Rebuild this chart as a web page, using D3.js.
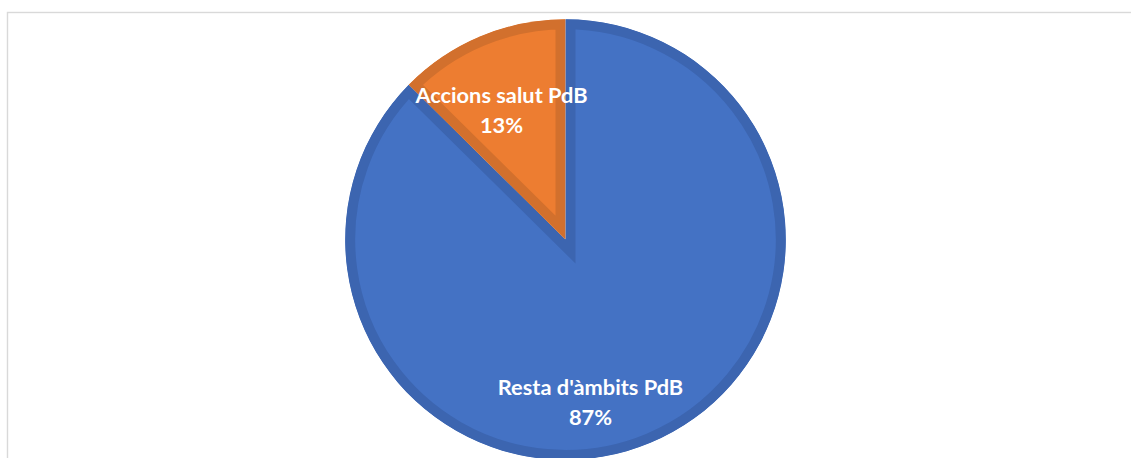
<!DOCTYPE html>
<html>
<head>
<meta charset="utf-8">
<script src="https://cdn.jsdelivr.net/npm/d3@7"></script>
<style>
  html, body { margin: 0; padding: 0; background: #ffffff; overflow: hidden; }
  svg { display: block; }
</style>
</head>
<body>
<svg id="chart" width="1131" height="458"></svg>
<script>
// ---- data ----
const categories = ["Resta d'àmbits PdB", "Accions salut PdB"];
const values = [87.4, 12.6];
const percentLabels = ["87%", "13%"];
const fillColors = ["#4472C4", "#ED7D31"];
const borderColors = ["#3C65B0", "#D2702D"];

// ---- layout ----
const W = 1131, H = 458;
const cx = 565.5, cy = 239.6, R = 220.3;
const borderW = 10;
// label offsets relative to pie centre (best-fit placement)
const labelPos = [[25, 155], [-64, -137]];
const lineGap = 30;

const svg = d3.select("#chart");

// chart area frame
svg.append("rect")
  .attr("x", 7.5).attr("y", 12.5)
  .attr("width", W + 50).attr("height", H + 50)
  .attr("fill", "#ffffff")
  .attr("stroke", "#d9d9d9")
  .attr("stroke-width", 1.4);

const pie = d3.pie().sort(null).value(d => d.v)
  .startAngle(0).endAngle(2 * Math.PI);
const data = categories.map((c, i) => ({ c, v: values[i], i }));
const arcs = pie(data);
const arc = d3.arc().innerRadius(0).outerRadius(R);

const g = svg.append("g").attr("transform", `translate(${cx},${cy})`);
const defs = svg.append("defs");

arcs.forEach((a, i) => {
  defs.append("clipPath").attr("id", "clip" + i)
    .append("path").attr("d", arc(a));
  g.append("path")
    .attr("d", arc(a))
    .attr("fill", fillColors[i])
    .attr("stroke", borderColors[i])
    .attr("stroke-width", borderW * 2)
    .attr("stroke-linejoin", "miter")
    .attr("stroke-miterlimit", 10)
    .attr("clip-path", `url(#clip${i})`);
});

// labels
arcs.forEach((a, i) => {
  const [dx, dy] = labelPos[i];
  const t = g.append("text")
    .attr("x", dx).attr("y", dy)
    .attr("text-anchor", "middle")
    .attr("fill", "#ffffff")
    .attr("font-family", "Lato, 'Open Sans', sans-serif")
    .attr("font-weight", "bold")
    .attr("font-size", 21.8);
  t.append("tspan").attr("x", dx).attr("dy", 0).text(categories[i]);
  t.append("tspan").attr("x", dx).attr("dy", lineGap).text(percentLabels[i]);
});
</script>
</body>
</html>
